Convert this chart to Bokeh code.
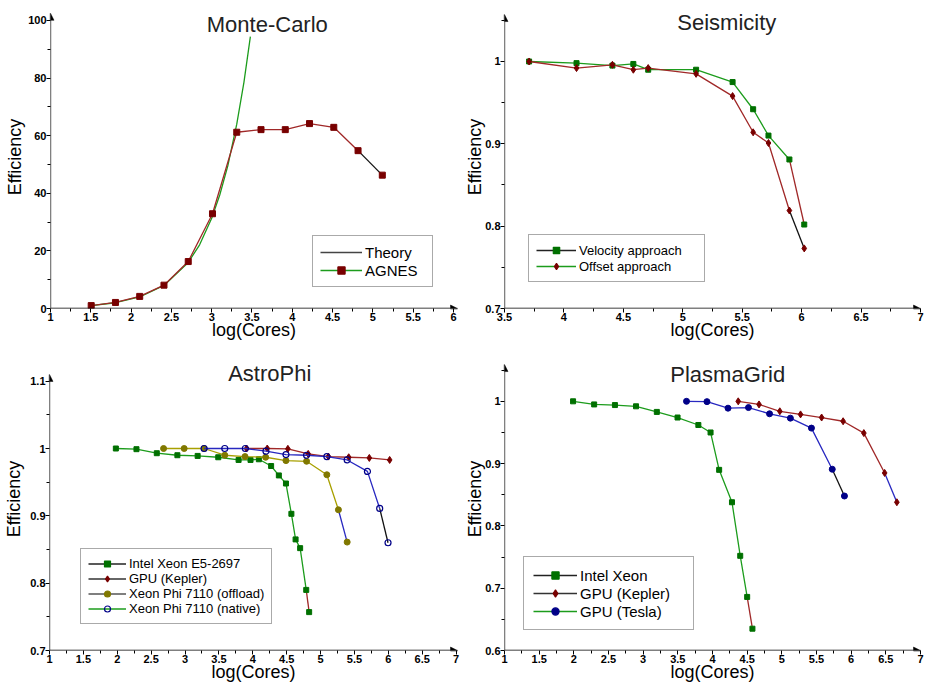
from bokeh.plotting import figure
from bokeh.layouts import column, row
from bokeh.models import Range1d, Legend, LegendItem, Label, Arrow, NormalHead, FixedTicker
from bokeh.embed import file_html
from bokeh.resources import INLINE

# ---------------- data ----------------
# Monte-Carlo
mc_x = [1.505, 1.806, 2.107, 2.408, 2.709, 3.010, 3.311, 3.612, 3.913, 4.214, 4.515, 4.816, 5.117]
mc_agnes = [1.0, 2.1, 4.2, 8.1, 16.3, 32.9, 61.2, 62.1, 62.1, 64.2, 62.9, 54.8, 46.3]
mc_theory_x = [1.505, 1.806, 2.107, 2.408, 2.709, 2.85, 3.0, 3.1, 3.2, 3.311, 3.4, 3.48]
mc_theory_y = [1.0, 2.0, 4.0, 8.0, 16.0, 22.1, 31.3, 39.4, 49.5, 64.0, 78.5, 94.4]

# Seismicity
seis_x = [3.707, 4.106, 4.408, 4.584, 4.709, 5.112, 5.419, 5.592, 5.721, 5.897, 6.022]
seis_velocity = [1.000, 0.998, 0.995, 0.997, 0.990, 0.990, 0.975, 0.942, 0.910, 0.881, 0.802]
seis_offset = [1.000, 0.992, 0.996, 0.990, 0.992, 0.985, 0.958, 0.914, 0.901, 0.819, 0.773]

# AstroPhi
ap_intel_x = [1.979, 2.283, 2.583, 2.887, 3.186, 3.490, 3.790, 3.966, 4.089, 4.270, 4.384,
              4.489, 4.569, 4.631, 4.698, 4.788, 4.831]
ap_intel_y = [1.000, 0.999, 0.993, 0.990, 0.989, 0.987, 0.983, 0.983, 0.984, 0.974, 0.960,
              0.948, 0.903, 0.865, 0.852, 0.790, 0.757]
ap_kepler_x = [3.909, 4.213, 4.517, 4.817, 5.116, 5.415, 5.719, 6.019]
ap_kepler_y = [1.000, 1.000, 0.9995, 0.992, 0.988, 0.987, 0.986, 0.983]
ap_offload_x = [2.683, 2.987, 3.281, 3.586, 3.885, 4.189, 4.489, 4.793, 5.092, 5.263, 5.392]
ap_offload_y = [1.000, 1.000, 1.000, 0.990, 0.988, 0.987, 0.982, 0.981, 0.961, 0.909, 0.861]
ap_native_x = [3.281, 3.586, 3.890, 4.194, 4.489, 4.793, 5.092, 5.392, 5.691, 5.872, 5.995]
ap_native_y = [1.000, 1.000, 1.000, 0.996, 0.991, 0.990, 0.988, 0.983, 0.966, 0.911, 0.860]

# PlasmaGrid
pg_intel_x = [1.989, 2.293, 2.593, 2.897, 3.197, 3.496, 3.796, 3.972, 4.096, 4.281, 4.400, 4.500, 4.576]
pg_intel_y = [1.000, 0.995, 0.994, 0.992, 0.983, 0.974, 0.962, 0.950, 0.890, 0.838, 0.752, 0.686, 0.635]
pg_kepler_x = [4.371, 4.671, 4.971, 5.270, 5.574, 5.884, 6.183, 6.483, 6.659]
pg_kepler_y = [1.000, 0.995, 0.984, 0.979, 0.974, 0.968, 0.949, 0.885, 0.838]
pg_tesla_x = [3.625, 3.920, 4.224, 4.519, 4.823, 5.123, 5.427, 5.727, 5.903]
pg_tesla_y = [1.000, 0.9995, 0.989, 0.990, 0.980, 0.973, 0.957, 0.891, 0.848]

# tick labels
mc_xticks = [1, 1.5, 2, 2.5, 3, 3.5, 4, 4.5, 5, 5.5, 6]
mc_xlabels = ["1", "1.5", "2", "2.5", "3", "3.5", "4", "4.5", "5", "5.5", "6"]
mc_yticks = [0, 20, 40, 60, 80, 100]
mc_ylabels = ["0", "20", "40", "60", "80", "100"]
seis_xticks = [3.5, 4, 4.5, 5, 5.5, 6, 6.5, 7]
seis_xlabels = ["3.5", "4", "4.5", "5", "5.5", "6", "6.5", "7"]
seis_yticks = [0.7, 0.8, 0.9, 1.0]
seis_ylabels = ["0.7", "0.8", "0.9", "1"]
ap_xticks = [1, 1.5, 2, 2.5, 3, 3.5, 4, 4.5, 5, 5.5, 6, 6.5, 7]
ap_xlabels = ["1", "1.5", "2", "2.5", "3", "3.5", "4", "4.5", "5", "5.5", "6", "6.5", "7"]
ap_yticks = [0.7, 0.8, 0.9, 1.0, 1.1]
ap_ylabels = ["0.7", "0.8", "0.9", "1", "1.1"]
pg_yticks = [0.6, 0.7, 0.8, 0.9, 1.0]
pg_ylabels = ["0.6", "0.7", "0.8", "0.9", "1"]

X_TITLE = "log(Cores)"
Y_TITLE = "Efficiency"

# ---------------- style ----------------
FONT = "Liberation Sans"
G_LINE, G_MARK = "#1c9c1c", "#007000"
R_LINE, R_MARK = "#a02828", "#780000"
O_LINE, O_MARK = "#a8a000", "#807800"
B_LINE, B_MARK = "#2828c0", "#000088"
K_LINE = "#111111"


def minor_of(ticks, step):
    return [a + step for a in ticks[:-1]]


def make_fig(width, height, xr, yr, xticks, xlabels, xminor, yticks, ylabels, yminor,
             tip_x, tip_y, borders, ylab_standoff):
    bl, br, bt, bb = borders
    p = figure(width=width, height=height, x_range=Range1d(*xr), y_range=Range1d(*yr),
               output_backend="svg", toolbar_location=None,
               min_border_left=bl, min_border_right=br, min_border_top=bt, min_border_bottom=bb)
    p.grid.visible = False
    p.outline_line_color = None
    p.background_fill_color = "white"
    xa, ya = p.xaxis[0], p.yaxis[0]
    xa.ticker = FixedTicker(ticks=xticks, minor_ticks=xminor)
    ya.ticker = FixedTicker(ticks=yticks, minor_ticks=yminor)
    xa.major_label_overrides = {t: l for t, l in zip(xticks, xlabels)}
    ya.major_label_overrides = {t: l for t, l in zip(yticks, ylabels)}
    xa.axis_label = X_TITLE
    ya.axis_label = Y_TITLE
    for ax in (xa, ya):
        ax.axis_line_color = None
        ax.major_tick_in = 0
        ax.major_tick_out = 4
        ax.minor_tick_in = 0
        ax.minor_tick_out = 3
        ax.major_tick_line_color = "black"
        ax.minor_tick_line_color = "black"
        ax.major_label_text_font = FONT
        ax.major_label_text_font_style = "bold"
        ax.major_label_text_font_size = "11px"
        ax.major_label_text_color = "black"
        ax.major_label_standoff = 0
        ax.axis_label_text_font = FONT
        ax.axis_label_text_font_style = "normal"
        ax.axis_label_text_font_size = "18px"
        ax.axis_label_text_color = "black"
    xa.axis_label_standoff = -4
    ya.axis_label_standoff = ylab_standoff
    # axis lines with arrow heads
    p.add_layout(Arrow(end=NormalHead(size=7, fill_color="black", line_color="black", line_width=0.5),
                       x_start=xr[0], y_start=yr[0], x_end=tip_x, y_end=yr[0],
                       line_color="black", line_width=1.3))
    p.add_layout(Arrow(end=NormalHead(size=7, fill_color="black", line_color="black", line_width=0.5),
                       x_start=xr[0], y_start=yr[0], x_end=xr[0], y_end=tip_y,
                       line_color="black", line_width=1.3))
    return p


def add_title(p, text, x, y):
    p.add_layout(Label(x=x, y=y, text=text, text_align="center", text_baseline="middle",
                       text_font=FONT, text_font_size="22px", text_color="#222222"))


def series(p, xs, ys, line_color, last_color, marker, mcolor, size, fill=True):
    p.line(xs[:-1], ys[:-1], line_color=line_color, line_width=1.3)
    p.line(xs[-2:], ys[-2:], line_color=last_color, line_width=1.3)
    p.scatter(xs, ys, marker=marker, size=size, line_color=mcolor,
              fill_color=mcolor if fill else None, line_width=1.2 if not fill else 1)


def legend_entry(p, line_color, marker=None, mcolor=None, size=6, fill=True):
    # legend-only renderers: a point far outside the visible ranges
    off_x = [p.x_range.start - 1000]
    off_y = [p.y_range.start - 1000]
    out = [p.line(off_x + off_x, off_y + off_y, line_color=line_color, line_width=1.3)]
    if marker is not None:
        out.append(p.scatter(off_x, off_y, marker=marker, size=size, line_color=mcolor,
                             fill_color=mcolor if fill else None, line_width=1.2))
    return out


def style_legend(lg, font_size, row_h, glyph_w, pad, label_w):
    lg.border_line_color = "#555555"
    lg.border_line_width = 1.5
    lg.background_fill_color = "white"
    lg.background_fill_alpha = 1
    lg.label_text_font = FONT
    lg.label_text_font_size = font_size
    lg.label_text_color = "black"
    lg.label_height = row_h
    lg.glyph_height = row_h
    lg.glyph_width = glyph_w
    lg.label_width = label_w
    lg.label_standoff = 3
    lg.spacing = 0
    lg.padding = pad
    lg.margin = 0


W_L, W_R, H = 462, 463, 342

# ---------------- Monte-Carlo ----------------
p1 = make_fig(W_L, H, (1, 6.05), (0, 105.2), mc_xticks, mc_xlabels, minor_of(mc_xticks, 0.25),
              mc_yticks, mc_ylabels, minor_of(mc_yticks, 10), 6.05, 102.5, (50, 5, 5, 34), 0)
p1.line(mc_theory_x, mc_theory_y, line_color=G_LINE, line_width=1.3)
series(p1, mc_x, mc_agnes, R_LINE, K_LINE, "square", R_MARK, 6)
add_title(p1, "Monte-Carlo", 3.69, 98.5)
lg1 = Legend(items=[LegendItem(label="Theory", renderers=legend_entry(p1, "#444444")),
                    LegendItem(label="AGNES", renderers=legend_entry(p1, G_LINE, "square", R_MARK, 6))],
             location=(262, 21))
style_legend(lg1, "15px", 18, 42, 7, 60)
p1.add_layout(lg1)

# ---------------- Seismicity ----------------
p2 = make_fig(W_R, H, (3.5, 7.0), (0.7, 1.068), seis_xticks, seis_xlabels, minor_of(seis_xticks, 0.25),
              seis_yticks, seis_ylabels, minor_of(seis_yticks, 0.05) + [1.05], 7.0, 1.057, (41, 5, 5, 34), -3)
series(p2, seis_x, seis_velocity, G_LINE, R_LINE, "square", G_MARK, 5)
series(p2, seis_x, seis_offset, R_LINE, K_LINE, "diamond", R_MARK, 7)
add_title(p2, "Seismicity", 5.37, 1.0477)
lg2 = Legend(items=[LegendItem(label="Velocity approach", renderers=legend_entry(p2, "#222222", "square", G_MARK, 5)),
                    LegendItem(label="Offset approach", renderers=legend_entry(p2, G_LINE, "diamond", R_MARK, 7))],
             location=(24, 26))
style_legend(lg2, "13px", 16, 40, 7, 118)
p2.add_layout(lg2)

# ---------------- AstroPhi ----------------
p3 = make_fig(W_L, H, (1, 7.02), (0.7, 1.150), ap_xticks, ap_xlabels, minor_of(ap_xticks, 0.25),
              ap_yticks, ap_ylabels, minor_of(ap_yticks, 0.05), 7.02, 1.11, (49, 5, 5, 34), 3)
series(p3, ap_intel_x, ap_intel_y, G_LINE, R_LINE, "square", G_MARK, 5)
series(p3, ap_kepler_x, ap_kepler_y, R_LINE, R_LINE, "diamond", R_MARK, 7)
series(p3, ap_offload_x, ap_offload_y, O_LINE, B_LINE, "circle", O_MARK, 6)
series(p3, ap_native_x, ap_native_y, B_LINE, K_LINE, "circle", B_MARK, 6, fill=False)
add_title(p3, "AstroPhi", 4.25, 1.1116)
lg3 = Legend(items=[LegendItem(label="Intel Xeon E5-2697", renderers=legend_entry(p3, "#222222", "square", G_MARK, 5)),
                    LegendItem(label="GPU (Kepler)", renderers=legend_entry(p3, "#333333", "diamond", R_MARK, 7)),
                    LegendItem(label="Xeon Phi 7110 (offload)", renderers=legend_entry(p3, "#555555", "circle", O_MARK, 6)),
                    LegendItem(label="Xeon Phi 7110 (native)", renderers=legend_entry(p3, G_LINE, "circle", B_MARK, 6, fill=False))],
             location=(31, 26))
style_legend(lg3, "13px", 15, 38, 7, 134)
p3.add_layout(lg3)

# ---------------- PlasmaGrid ----------------
p4 = make_fig(W_R, H, (1, 7.0), (0.6, 1.0864), ap_xticks, ap_xlabels, minor_of(ap_xticks, 0.25),
              pg_yticks, pg_ylabels, minor_of(pg_yticks, 0.05) + [1.05], 7.0, 1.059, (41, 5, 5, 34), -3)
series(p4, pg_intel_x, pg_intel_y, G_LINE, R_LINE, "square", G_MARK, 5)
series(p4, pg_kepler_x, pg_kepler_y, R_LINE, B_LINE, "diamond", R_MARK, 7)
series(p4, pg_tesla_x, pg_tesla_y, B_LINE, K_LINE, "circle", B_MARK, 6)
add_title(p4, "PlasmaGrid", 4.22, 1.043)
lg4 = Legend(items=[LegendItem(label="Intel Xeon", renderers=legend_entry(p4, "#222222", "square", G_MARK, 5)),
                    LegendItem(label="GPU (Kepler)", renderers=legend_entry(p4, "#333333", "diamond", R_MARK, 7)),
                    LegendItem(label="GPU (Tesla)", renderers=legend_entry(p4, G_LINE, "circle", B_MARK, 6))],
             location=(19, 20))
style_legend(lg4, "15px", 18, 44, 9, 104)
p4.add_layout(lg4)

layout = column(row(p1, p2), row(p3, p4))
open("out.html", "w").write(file_html(layout, INLINE))
